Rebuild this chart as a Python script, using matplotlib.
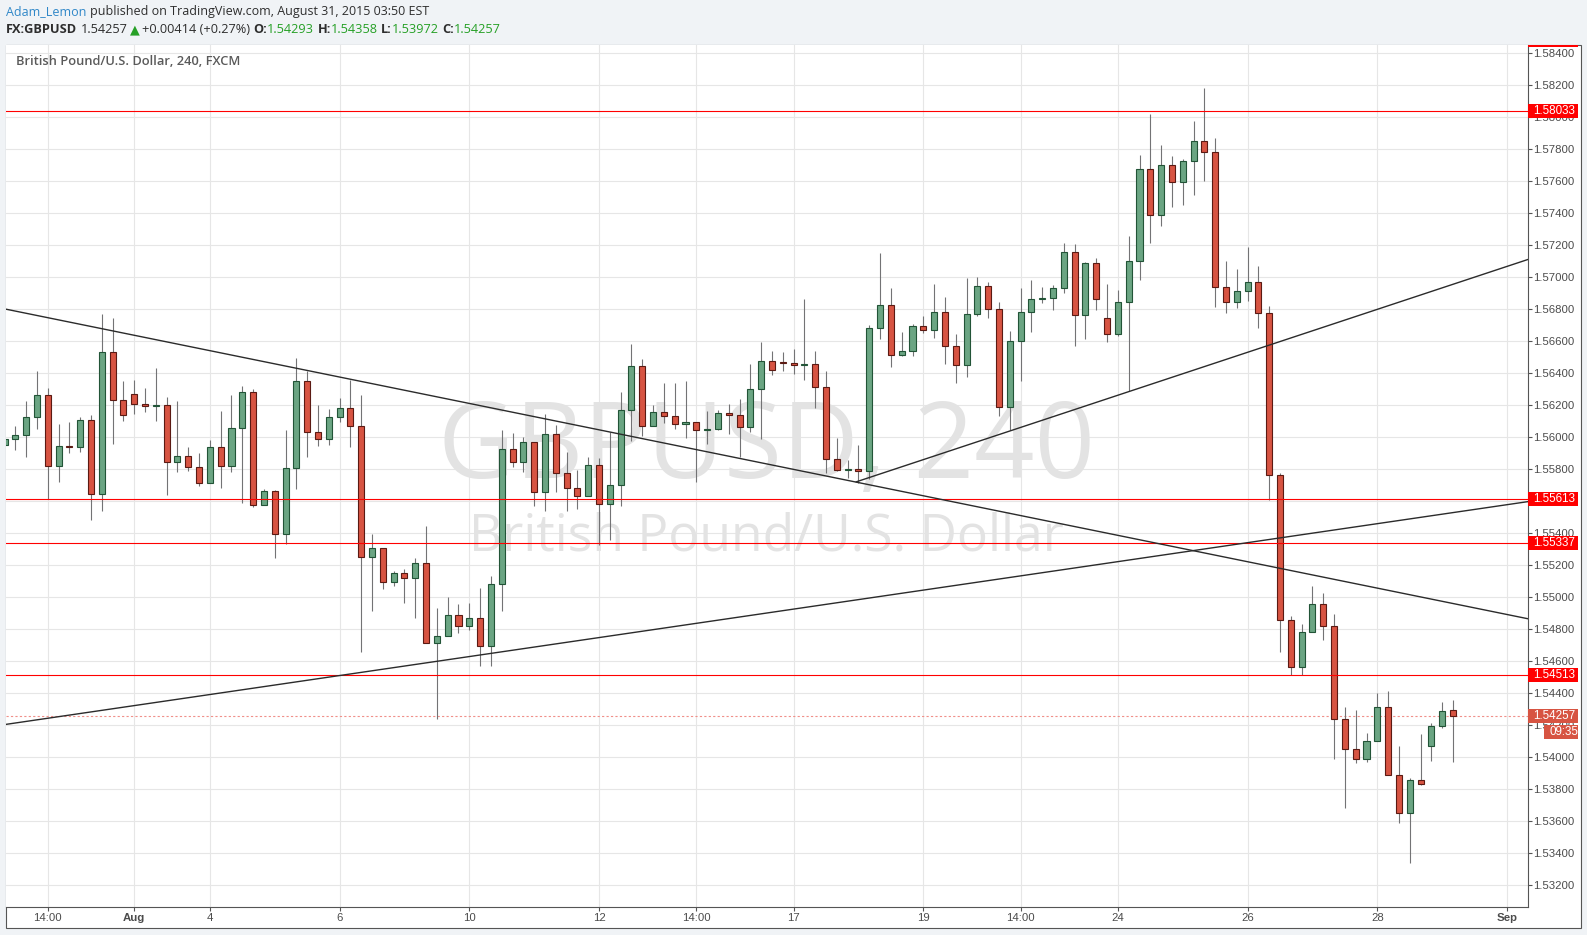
import numpy as np
import matplotlib
matplotlib.use("Agg")
import matplotlib.pyplot as plt
import matplotlib.transforms as mtransforms
from matplotlib.patches import Rectangle

W, H = 1587, 935

# GBPUSD 4H candles (bar index 0 .. 134)
opens = [1.5595, 1.55986, 1.56013, 1.56125, 1.56263, 1.55819, 1.55946, 1.55936, 1.56106, 1.55644,
         1.56531, 1.56231, 1.56269, 1.56206, 1.56194, 1.562, 1.55842, 1.55881, 1.55811, 1.55713,
         1.55938, 1.55819, 1.56056, 1.56281, 1.55575, 1.55663, 1.55394, 1.55806, 1.5635, 1.56031,
         1.55988, 1.56125, 1.56181, 1.56069, 1.5525, 1.55307, 1.55094, 1.55152, 1.55121, 1.55215,
         1.54715, 1.54759, 1.5489, 1.54821, 1.54871, 1.54696, 1.55084, 1.55927, 1.55846, 1.55971,
         1.55658, 1.56021, 1.55777, 1.55684, 1.55634, 1.55827, 1.55584, 1.55702, 1.56171, 1.56446,
         1.56071, 1.56158, 1.56133, 1.56083, 1.56096, 1.56046, 1.5605, 1.56152, 1.5614, 1.56065,
         1.56302, 1.56477, 1.56471, 1.56465, 1.56448, 1.56454, 1.56311, 1.55861, 1.55792, 1.55798,
         1.55786, 1.56681, 1.56825, 1.56513, 1.56538, 1.56694, 1.56669, 1.56781, 1.56569, 1.5645,
         1.56769, 1.56944, 1.568, 1.56188, 1.566, 1.56781, 1.56863, 1.56869, 1.56931, 1.57156,
         1.56763, 1.57088, 1.56744, 1.56644, 1.56844, 1.57101, 1.57676, 1.57387, 1.57699, 1.57595,
         1.57724, 1.57849, 1.57782, 1.56939, 1.56844, 1.56914, 1.56969, 1.56777, 1.55761, 1.5486,
         1.54561, 1.54785, 1.54954, 1.54817, 1.54236, 1.54054, 1.53992, 1.54104, 1.54311, 1.53892,
         1.53654, 1.53861, 1.54073, 1.54198, 1.54293]
highs = [1.5601, 1.56067, 1.56227, 1.56415, 1.56308, 1.56081, 1.56096, 1.56123, 1.56138, 1.56765,
         1.5674, 1.56352, 1.56358, 1.56308, 1.56431, 1.56252, 1.56227, 1.5594, 1.55902, 1.55981,
         1.56165, 1.56265, 1.56319, 1.563, 1.55675, 1.55669, 1.56046, 1.56496, 1.56415, 1.56202,
         1.56177, 1.56246, 1.56356, 1.56265, 1.55394, 1.55307, 1.55165, 1.55173, 1.55246, 1.55442,
         1.54932, 1.54998, 1.54954, 1.54961, 1.55057, 1.55134, 1.56042, 1.56027, 1.56002, 1.55971,
         1.56146, 1.56077, 1.55908, 1.55796, 1.55877, 1.55871, 1.56033, 1.56283, 1.56583, 1.5649,
         1.56202, 1.5634, 1.5634, 1.56352, 1.56096, 1.56165, 1.56171, 1.56208, 1.5624, 1.56458,
         1.56596, 1.5654, 1.56533, 1.56552, 1.5686, 1.56536, 1.56411, 1.55992, 1.55854, 1.55948,
         1.567, 1.57152, 1.56933, 1.56658, 1.56706, 1.56756, 1.56958, 1.56877, 1.56644, 1.5699,
         1.57002, 1.56969, 1.56844, 1.56663, 1.56931, 1.56981, 1.56938, 1.5695, 1.57213, 1.57206,
         1.5709, 1.57119, 1.56956, 1.56919, 1.57253, 1.57764, 1.58015, 1.57821, 1.57752, 1.57738,
         1.57976, 1.58177, 1.5787, 1.57096, 1.57048, 1.57184, 1.57066, 1.56821, 1.55776, 1.54881,
         1.54831, 1.55069, 1.55025, 1.54894, 1.54313, 1.54294, 1.54154, 1.54404, 1.54411, 1.54073,
         1.53873, 1.54148, 1.54211, 1.54342, 1.54358]
lows = [1.5593, 1.55921, 1.55873, 1.56048, 1.55613, 1.55717, 1.55898, 1.55904, 1.55481, 1.55536,
        1.55954, 1.56098, 1.56142, 1.56154, 1.56098, 1.55636, 1.55779, 1.55786, 1.55692, 1.5571,
        1.55679, 1.55779, 1.55586, 1.55561, 1.55575, 1.55242, 1.55332, 1.55673, 1.55873, 1.55942,
        1.5595, 1.56092, 1.55936, 1.54655, 1.54911, 1.55048, 1.55067, 1.54963, 1.54869, 1.54715,
        1.54236, 1.54755, 1.54777, 1.54796, 1.54571, 1.54571, 1.54913, 1.55813, 1.55783, 1.55571,
        1.5554, 1.55658, 1.5554, 1.55552, 1.5563, 1.55327, 1.55359, 1.55571, 1.55977, 1.56008,
        1.56068, 1.5609, 1.56052, 1.55996, 1.55719, 1.55958, 1.56046, 1.56021, 1.55877, 1.56033,
        1.5599, 1.5639, 1.56415, 1.56396, 1.56354, 1.56179, 1.55773, 1.5579, 1.55742, 1.55711,
        1.5574, 1.56611, 1.56436, 1.56506, 1.56504, 1.5665, 1.56617, 1.56454, 1.56336, 1.56373,
        1.56756, 1.56744, 1.56131, 1.56044, 1.5635, 1.56656, 1.56838, 1.56794, 1.569, 1.56569,
        1.56613, 1.56794, 1.56594, 1.56631, 1.56288, 1.56981, 1.57212, 1.57318, 1.57436, 1.57449,
        1.57512, 1.57597, 1.56812, 1.56775, 1.56805, 1.56849, 1.5668, 1.55606, 1.54658, 1.54511,
        1.54511, 1.54785, 1.54735, 1.53986, 1.53686, 1.53967, 1.53973, 1.54104, 1.53892, 1.53592,
        1.53342, 1.53827, 1.53979, 1.54183, 1.53972]
closes = [1.5599, 1.56015, 1.56125, 1.56263, 1.55819, 1.55944, 1.55938, 1.56106, 1.55644, 1.56531,
          1.56231, 1.56138, 1.56206, 1.56194, 1.562, 1.55842, 1.55881, 1.55811, 1.55713, 1.55938,
          1.55819, 1.56056, 1.56281, 1.55575, 1.55663, 1.55394, 1.55806, 1.5635, 1.56031, 1.55988,
          1.56125, 1.56181, 1.56069, 1.5525, 1.55307, 1.55094, 1.5515, 1.55121, 1.55215, 1.54715,
          1.54759, 1.5489, 1.54821, 1.54871, 1.54696, 1.55084, 1.55927, 1.55846, 1.55971, 1.55658,
          1.56021, 1.55777, 1.55684, 1.55634, 1.55827, 1.55584, 1.55702, 1.56171, 1.56446, 1.56071,
          1.56158, 1.56133, 1.56083, 1.56096, 1.56046, 1.5605, 1.56152, 1.5614, 1.56065, 1.56302,
          1.56477, 1.56421, 1.56465, 1.56452, 1.56454, 1.56311, 1.55861, 1.55792, 1.55798, 1.55786,
          1.56681, 1.56825, 1.56513, 1.56538, 1.56694, 1.56669, 1.56781, 1.56569, 1.5645, 1.56769,
          1.56944, 1.568, 1.56188, 1.566, 1.56781, 1.56863, 1.56869, 1.56931, 1.57156, 1.56763,
          1.57088, 1.56863, 1.56644, 1.56844, 1.57101, 1.57676, 1.57387, 1.57699, 1.57595, 1.57724,
          1.57849, 1.57782, 1.56939, 1.56844, 1.56914, 1.56969, 1.56777, 1.55761, 1.5486, 1.54561,
          1.54785, 1.54954, 1.54817, 1.54236, 1.54054, 1.53992, 1.54104, 1.54311, 1.53892, 1.53654,
          1.53861, 1.53836, 1.54198, 1.54286, 1.54257]

tick_pos = [4, 12, 19, 31, 43, 55, 64, 73, 85, 94, 103, 115, 127, 139]
tick_labels = ['14:00', 'Aug', '4', '6', '10', '12', '14:00', '17', '19', '14:00', '24', '26', '28', 'Sep']

levels = [1.58033, 1.55613, 1.55337, 1.54513]   # horizontal support / resistance
last_price = 1.54257
countdown = '09:35'

# trend lines: (bar, price) end points
trend_down = [(0, 1.5680), (141, 1.54864)]
trend_up_long = [(0, 1.54204), (141, 1.55597)]
trend_up_short = [(78.8, 1.5572), (141, 1.5711)]

UP, UP_EDGE = '#6ba583', '#225437'
DOWN, DOWN_EDGE = '#d75442', '#5b1a13'
WICK = '#737375'
TXT = '#4c4c4c'

fig = plt.figure(figsize=(W / 100, H / 100), dpi=100, facecolor='#f0f3f6')
renderer = fig.canvas.get_renderer()


def px(x, y):
    return x / W, 1 - y / H


# white chart panel with border
fig.add_artist(Rectangle(px(6, 927.7), (1580.7 - 6) / W, (927.7 - 44.5) / H,
                         transform=fig.transFigure, facecolor='white',
                         edgecolor='#555555', lw=0.8, zorder=-1))

x0, y0 = px(6, 907.3)
ax = fig.add_axes([x0, y0, (1528 - 6) / W, (907.3 - 44.5) / H])
ax.set_facecolor('white')
ax.set_xlim(0.139, 140.94)
ax.set_ylim(1.53063, 1.58451)

# grid + axes
ax.set_axisbelow(True)
ax.grid(True, color='#e6e6e6', lw=0.8)
for s in ['top', 'left']:
    ax.spines[s].set_visible(False)
for s in ['bottom', 'right']:
    ax.spines[s].set_color('#555555')
    ax.spines[s].set_linewidth(0.8)

yt = np.arange(1.532, 1.5841, 0.002)
ax.yaxis.tick_right()
ax.set_yticks(yt)
ax.set_yticklabels(['%.5f' % v for v in yt])
ax.set_xticks(tick_pos)
ax.set_xticklabels(tick_labels)
ax.tick_params(axis='y', direction='out', length=3, width=0.8, pad=1, colors='#555555',
               labelsize=8.2, labelcolor=TXT)
ax.tick_params(axis='x', direction='out', length=3, width=0.8, pad=1, colors='#555555',
               labelsize=8.2, labelcolor=TXT)
for lab in ax.get_xticklabels() + ax.get_yticklabels():
    lab.set_family('Liberation Sans')
for lab in ax.get_xticklabels():
    if lab.get_text() in ('Aug', 'Sep'):
        lab.set_fontweight('bold')

# watermark
wm_font = ['Open Sans', 'DejaVu Sans']


def fitted_size(text, target, **kw):
    t = fig.text(0, 0, text, fontsize=10, **kw)
    w = t.get_window_extent(renderer).width
    t.remove()
    return 10 * target / w


s1 = fitted_size('GBPUSD, 240', 657, family=wm_font)
s2 = fitted_size('British Pound/U.S. Dollar', 596, family=wm_font)
ax.text(*px(766, 477.6), 'GBPUSD, 240', transform=fig.transFigure, fontsize=s1,
        family=wm_font, color='#e3e3e3', ha='center', va='baseline', zorder=1)
ax.text(*px(766, 550.5), 'British Pound/U.S. Dollar', transform=fig.transFigure, fontsize=s2,
        family=wm_font, color='#e3e3e3', ha='center', va='baseline', zorder=1)

# candles
o = np.array(opens)
c = np.array(closes)
xs = np.arange(len(o))
up = c >= o
ax.vlines(xs, lows, highs, color=WICK, lw=0.8, zorder=3)
bottom = np.minimum(o, c)
height = np.maximum(np.abs(c - o), 0.00004)
ax.bar(xs, height, width=0.56, bottom=bottom, color=np.where(up, UP, DOWN),
       edgecolor=np.where(up, UP_EDGE, DOWN_EDGE), linewidth=0.8, zorder=4)

# drawings
for lv in levels:
    ax.axhline(lv, color='#ff0000', lw=0.8, zorder=5)
ax.axhline(last_price, color='#f0908a', lw=0.8, ls=(0, (2, 2)), zorder=2)
for line in [trend_down, trend_up_long, trend_up_short]:
    ax.plot([p[0] for p in line], [p[1] for p in line], color='#2b2b2b', lw=1.0, zorder=5)

# price labels on the scale
blend = mtransforms.blended_transform_factory(ax.transAxes, ax.transData)
px_price = (1.58451 - 1.53063) / (907.3 - 44.5)
box_w = (1578 - 1528) / (1528 - 6)
txt_x = 1 + 5 / (1528 - 6)


def price_box(y, label, color, x_start=1.0):
    hh = 7 * px_price
    ax.add_patch(Rectangle((x_start, y - hh), 1 + box_w - x_start, 2 * hh, transform=blend,
                           facecolor=color, edgecolor='none', clip_on=False, zorder=6))
    ax.text(x_start + (txt_x - 1), y, label, transform=blend, color='white', fontsize=8.4,
            family='Liberation Sans', va='center', ha='left', clip_on=False, zorder=7)


for lv in levels:
    price_box(lv, '%.5f' % lv, '#ff0000')
price_box(last_price, '%.5f' % last_price, DOWN)
price_box(last_price - 15.5 * px_price, countdown, DOWN, x_start=1 + 16 / (1528 - 6))
ax.add_patch(Rectangle((1.0, 1.58451 - 2 * px_price), box_w, 2 * px_price, transform=blend,
                       facecolor='#ff0000', edgecolor='none', clip_on=False, zorder=6))

# header rows
hdr_font = ['Open Sans', 'DejaVu Sans']
GREEN = '#26a026'
DARK = '#2e2e2e'
row1 = [('Adam_Lemon', '#2f87c8', 'normal', 0),
        ('published on TradingView.com, August 31, 2015 03:50 EST', DARK, 'normal', 1)]
row2 = [('FX:GBPUSD', DARK, 'bold', 0), ('1.54257', DARK, 'normal', 1),
        ('\u25b2', GREEN, 'normal', 0.8), ('+0.00414 (+0.27%)', DARK, 'normal', 0.5),
        ('O:', DARK, 'bold', 1), ('1.54293', GREEN, 'normal', 0),
        ('H:', DARK, 'bold', 1), ('1.54358', GREEN, 'normal', 0),
        ('L:', DARK, 'bold', 1), ('1.53972', GREEN, 'normal', 0),
        ('C:', DARK, 'bold', 1), ('1.54257', GREEN, 'normal', 0)]


def text_row(pieces, x, y, size, draw=True):
    start = x
    space = 0.27 * size * 100 / 72
    for s, color, weight, gap in pieces:
        x += gap * space
        t = fig.text(*px(x, y), s, fontsize=size, color=color, fontweight=weight,
                     family=hdr_font, va='baseline')
        x += t.get_window_extent(renderer).width
        if not draw:
            t.remove()
    return x - start


w1 = text_row(row1, 6, 15.2, 10, draw=False)
w2 = text_row(row2, 6, 33.4, 10, draw=False)
text_row(row1, 6, 15.2, 10 * 421 / w1)
text_row(row2, 6, 33.4, 10 * 497 / w2)

ts = fitted_size('British Pound/U.S. Dollar, 240, FXCM', 223, family=hdr_font, fontweight='semibold')
fig.text(*px(16, 64.8), 'British Pound/U.S. Dollar, 240, FXCM', fontsize=ts, family=hdr_font,
         fontweight='semibold', color='#5a5a5a', va='baseline')

fig.savefig('out.png', dpi=100, facecolor=fig.get_facecolor())
